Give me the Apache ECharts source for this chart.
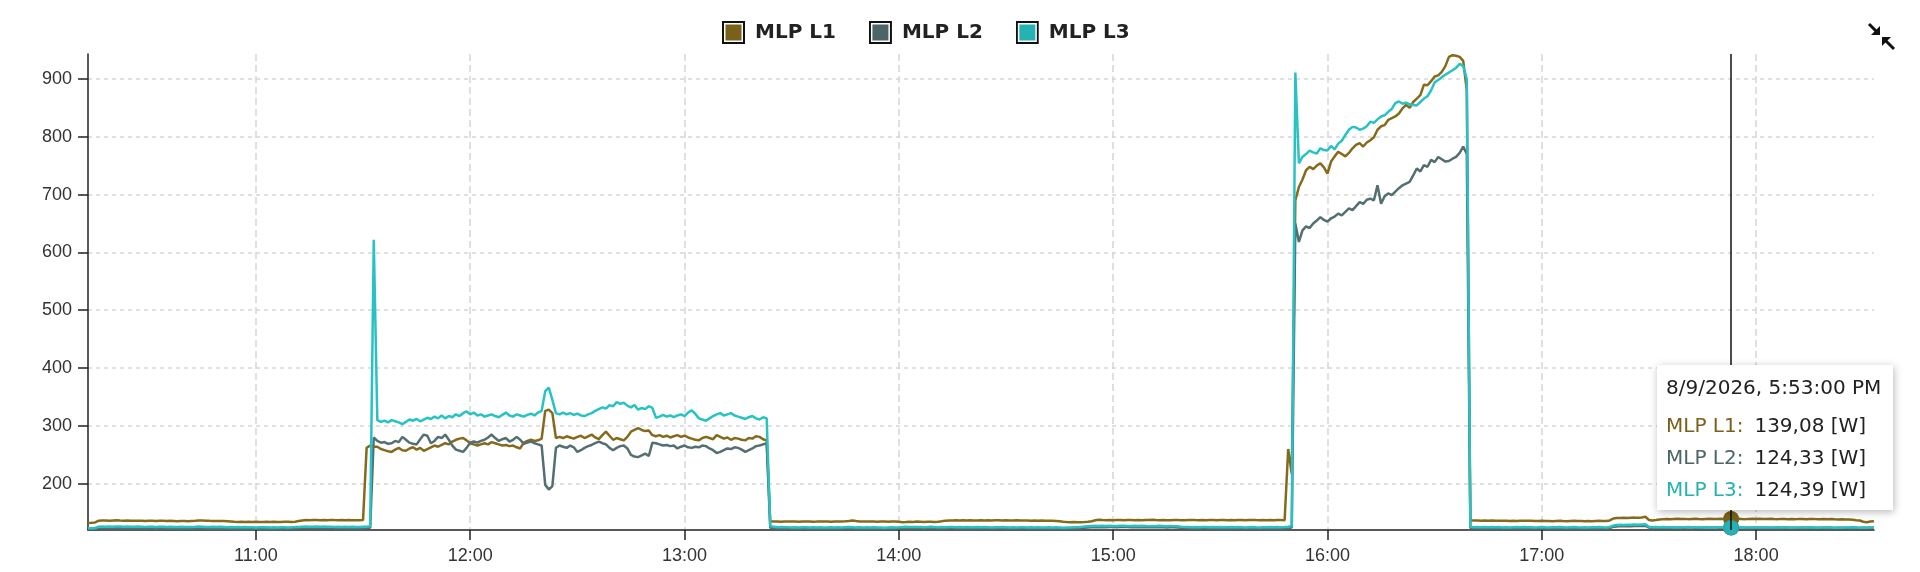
<!DOCTYPE html>
<html>
<head>
<meta charset="utf-8">
<title>MLP L1 - L3</title>
<script src="https://cdn.jsdelivr.net/npm/echarts@6/dist/echarts.min.js"></script>
<style>
  html, body { margin: 0; padding: 0; background: #fff; }
  #chart { width: 1920px; height: 572px; }
</style>
</head>
<body>
<div id="chart"></div>
<script>
// === Data === //
// one reading per minute, 8/9/2026 10:13 .. 18:33
const startTime = new Date(2026, 7, 9, 10, 13, 0).getTime()
const stepMs = 60 * 1000

const seriesNames = ['MLP L1', 'MLP L2', 'MLP L3']
const seriesColors = ['#7a611a', '#4d6567', '#26b1b3']
const unit = '[W]'

const l1Values = [
  132.2, 132.5, 133.0, 136.0, 136.4, 136.6, 136.2, 136.5, 136.8, 136.3,
  136.0, 136.4, 136.1, 135.8, 136.2, 136.0, 135.7, 136.1, 135.9, 135.6,
  136.0, 135.8, 135.5, 135.9, 135.6, 135.3, 135.7, 135.5, 135.2, 135.6,
  135.9, 136.3, 136.6, 136.2, 135.8, 135.5, 135.7, 135.4, 135.6, 135.2,
  134.8, 134.2, 134.0, 134.3, 133.9, 134.1, 133.8, 134.2, 134.0, 133.7,
  134.1, 133.9, 134.2, 134.0, 133.8, 134.1, 134.3, 134.0, 134.4, 135.5,
  136.6, 137.2, 137.0, 137.4, 137.1, 136.8, 137.3, 137.0, 137.5, 137.2,
  137.0, 137.3, 136.9, 137.2, 137.0, 136.7, 136.9, 137.1, 262, 266,
  264, 264, 260, 258, 256, 255, 259, 262, 258, 257,
  261, 263, 259, 262, 257, 260, 263, 266, 264, 267,
  270, 268, 273, 276, 278, 279, 275, 270, 268, 266,
  268, 270, 268, 272, 270, 268, 266, 267, 265, 266,
  263, 261, 271, 274, 276, 274, 275, 278, 326, 328,
  322, 279, 281, 279, 282, 280, 278, 281, 283, 279,
  282, 285, 280, 277, 284, 290, 283, 276, 279, 277,
  275, 281, 290, 293, 296, 293, 291, 292, 284, 282,
  284, 281, 283, 280, 282, 284, 281, 283, 280, 278,
  276, 275, 279, 281, 279, 277, 284, 281, 278, 280,
  276, 279, 278, 276, 275, 279, 278, 282, 281, 277,
  275, 135.0, 134.6, 134.8, 134.4, 134.7, 134.5, 134.9, 134.6, 134.3,
  134.7, 134.5, 134.8, 134.4, 134.6, 134.9, 134.5, 134.7, 134.4, 134.8,
  134.6, 134.9, 135.2, 135.6, 136.3, 135.4, 134.8, 134.6, 134.9, 134.5,
  134.7, 134.4, 134.8, 134.6, 134.3, 134.7, 134.5, 134.2, 133.6, 133.9,
  134.3, 134.0, 134.5, 134.2, 133.8, 134.1, 134.4, 134.0, 134.3, 135.0,
  136.2, 136.5, 136.3, 136.7, 136.4, 136.8, 136.5, 136.9, 136.6, 136.3,
  136.7, 136.5, 136.8, 136.4, 136.7, 136.9, 136.5, 136.8, 136.6, 136.4,
  136.7, 136.5, 136.3, 136.6, 136.2, 136.5, 136.1, 136.4, 136.0, 136.2,
  135.9, 135.6, 135.2, 134.4, 133.8, 133.5, 133.7, 133.4, 133.6, 133.9,
  134.3, 135.2, 136.8, 137.6, 137.2, 136.9, 137.3, 137.0, 137.4, 137.1,
  136.8, 137.2, 137.5, 137.0, 137.3, 136.9, 137.4, 137.1, 137.6, 137.2,
  136.9, 137.3, 137.0, 136.7, 137.1, 137.4, 137.0, 136.8, 137.2, 137.5,
  137.1, 136.9, 137.3, 137.0, 137.4, 137.2, 136.9, 137.3, 137.1, 136.8,
  137.2, 137.0, 137.4, 137.1, 136.8, 137.2, 137.5, 137.1, 136.9, 137.3,
  137.0, 137.2, 136.9, 137.3, 137.1, 137.0, 260, 217, 690, 713,
  726, 742, 748, 744, 750, 754, 747, 736, 757, 766,
  774, 770, 766, 772, 780, 786, 789, 783, 790, 794,
  799, 812, 818, 820, 829, 832, 835, 840, 849, 855,
  850, 860, 866, 872, 890, 889, 896, 904, 906, 912,
  922, 938, 941, 940, 938, 931, 880, 136.8, 136.4, 136.6,
  136.2, 136.5, 136.0, 136.3, 135.9, 136.2, 135.8, 136.1, 135.7, 136.0,
  135.6, 135.9, 136.2, 135.8, 136.1, 135.7, 135.5, 135.8, 135.4, 135.7,
  135.3, 135.6, 135.9, 135.5, 135.2, 135.6, 135.8, 135.4, 135.7, 135.3,
  135.6, 135.2, 135.5, 135.8, 135.4, 135.7, 136.5, 139.8, 140.6, 140.9,
  141.2, 140.8, 141.1, 141.4, 141.0, 141.6, 142.8, 137.4, 136.6, 137.2,
  138.3, 138.8, 139.1, 138.7, 139.0, 139.3, 138.9, 139.2, 138.8, 139.1,
  139.4, 139.0, 138.7, 139.2, 139.5, 139.1, 138.9, 139.3, 139.0, 138.8,
  139.08, 139.2, 139.5, 139.1, 138.8, 139.2, 139.4, 139.0, 139.3, 138.9,
  139.2, 139.5, 139.1, 138.8, 139.2, 139.0, 138.7, 139.1, 138.8, 139.2,
  139.0, 138.6, 138.9, 139.2, 138.8, 138.5, 138.9, 138.6, 138.9, 138.5,
  138.2, 138.6, 138.3, 138.0, 137.6, 136.9, 136.4, 134.2, 133.5, 134.8,
  135.2
]

const l2Values = [
  121.8, 122.0, 122.3, 123.2, 123.5, 123.1, 123.4, 123.0, 123.3, 122.9,
  123.2, 122.8, 123.1, 122.7, 123.0, 122.6, 122.9, 122.5, 122.8, 122.4,
  122.7, 122.4, 122.8, 122.5, 122.2, 122.6, 122.3, 122.7, 122.4, 122.1,
  122.5, 122.8, 122.4, 122.7, 122.3, 122.6, 122.2, 122.5, 122.1, 122.4,
  122.0, 122.3, 121.9, 122.2, 121.8, 122.1, 121.7, 122.0, 121.6, 121.9,
  121.5, 121.8, 121.4, 121.7, 121.9, 122.2, 122.5, 122.3, 122.6, 123.0,
  123.4, 123.7, 123.3, 123.6, 123.2, 123.5, 123.1, 123.4, 123.0, 123.3,
  122.9, 123.2, 122.8, 123.1, 122.7, 123.0, 122.6, 122.9, 123.3, 124.0,
  280, 274, 271, 272, 269, 270, 274, 272, 281, 276,
  271, 269, 268, 277, 285, 283, 270, 274, 281, 279,
  285, 276, 266, 259, 257, 255, 262, 271, 273, 271,
  274, 276, 280, 285, 279, 274, 277, 279, 273, 276,
  281, 276, 269, 271, 273, 270, 268, 266, 198, 190,
  196, 262, 266, 264, 262, 266, 263, 255, 258, 262,
  265, 267, 270, 273, 270, 268, 262, 258, 262, 265,
  266, 261, 250, 247, 246, 249, 252, 248, 271, 270,
  268, 266, 267, 265, 266, 261, 264, 266, 263, 262,
  264, 263, 266, 265, 261, 258, 253, 255, 258, 261,
  260, 263, 262, 259, 255, 258, 261, 265, 266, 268,
  270, 123.8, 123.2, 122.6, 122.9, 122.4, 122.7, 122.3, 122.6, 122.2,
  122.5, 122.1, 122.4, 122.0, 122.3, 122.6, 122.2, 122.5, 122.1, 122.4,
  122.0, 122.3, 122.6, 123.0, 122.7, 122.3, 122.6, 122.2, 122.5, 122.1,
  122.4, 122.0, 122.3, 121.9, 122.2, 122.5, 122.1, 122.4, 122.9, 123.3,
  123.0, 123.3, 122.9, 123.2, 122.8, 123.1, 123.4, 123.0, 122.7, 123.1,
  122.8, 123.2, 122.9, 122.6, 123.0, 122.7, 123.1, 122.8, 122.5, 122.9,
  122.6, 123.0, 122.7, 122.4, 122.8, 122.5, 122.9, 122.6, 122.3, 122.7,
  122.4, 122.8, 122.5, 122.2, 122.6, 122.3, 122.7, 122.4, 122.1, 122.5,
  122.2, 122.6, 122.3, 122.0, 122.4, 122.1, 122.5, 122.8, 123.3, 123.8,
  124.3, 124.7, 125.1, 124.8, 125.2, 124.9, 125.3, 125.0, 124.7, 125.1,
  125.4, 125.0, 124.7, 125.1, 124.8, 125.2, 124.9, 124.6, 125.0, 124.7,
  125.1, 124.8, 124.5, 124.9, 124.6, 124.2, 123.7, 123.3, 123.0, 122.7,
  123.1, 122.8, 123.2, 122.9, 122.6, 123.0, 122.7, 123.1, 122.8, 122.5,
  122.9, 122.6, 123.0, 122.7, 122.4, 122.8, 123.1, 122.7, 122.4, 122.8,
  122.5, 122.9, 122.6, 123.0, 122.7, 123.0, 123.6, 124.2, 650, 618,
  638, 645, 642, 650, 655, 661, 656, 653, 659, 662,
  667, 664, 670, 676, 673, 680, 687, 684, 691, 693,
  690, 716, 684, 697, 702, 699, 705, 711, 716, 719,
  722, 733, 745, 740, 751, 748, 760, 756, 765, 761,
  757, 758, 762, 765, 772, 783, 770, 123.4, 122.9, 123.3,
  122.8, 123.2, 122.7, 123.1, 122.6, 123.0, 122.5, 122.9, 122.4, 122.8,
  123.1, 122.7, 123.0, 122.6, 122.9, 122.5, 122.8, 123.2, 122.8, 122.5,
  122.9, 122.6, 123.0, 122.7, 122.4, 122.8, 123.1, 122.7, 122.4, 122.8,
  122.5, 122.9, 122.6, 123.0, 122.7, 122.4, 123.2, 125.4, 126.2, 126.7,
  126.4, 126.9, 126.6, 127.0, 126.7, 127.1, 127.4, 124.1, 123.5, 123.8,
  123.9, 124.2, 123.8, 124.1, 124.4, 124.0, 124.3, 123.9, 124.2, 124.5,
  124.1, 124.4, 124.0, 124.3, 124.6, 124.2, 124.5, 124.1, 124.4, 124.0,
  124.33, 124.6, 124.2, 124.5, 124.1, 123.8, 124.2, 123.9, 124.3, 124.0,
  124.4, 124.1, 123.8, 124.2, 123.9, 124.3, 124.0, 123.7, 124.1, 123.8,
  124.2, 123.9, 124.3, 124.0, 123.7, 124.1, 123.8, 124.2, 123.9, 123.6,
  124.0, 123.7, 124.1, 123.8, 124.2, 123.9, 123.6, 124.0, 123.7, 124.1,
  123.8
]

const l3Values = [
  123.0, 123.2, 123.5, 125.8, 126.0, 125.7, 126.1, 125.8, 126.2, 125.9,
  125.6, 126.0, 125.8, 125.5, 125.9, 125.7, 125.4, 125.8, 125.6, 125.3,
  125.7, 125.5, 125.2, 125.6, 125.4, 125.1, 125.5, 125.3, 125.0, 125.4,
  125.6, 126.0, 125.7, 125.4, 125.1, 125.5, 125.2, 125.6, 125.3, 124.9,
  125.2, 124.8, 125.1, 124.7, 125.0, 124.6, 124.9, 124.5, 124.8, 124.6,
  124.9, 124.5, 124.8, 124.4, 124.7, 124.9, 124.5, 124.8, 125.0, 125.3,
  125.6, 125.9, 125.5, 125.8, 126.0, 125.6, 125.9, 125.5, 125.8, 125.4,
  125.7, 125.3, 125.6, 125.2, 125.5, 125.1, 125.4, 125.6, 125.8, 126.5,
  622, 310, 307, 309, 306, 310, 308, 306, 303, 307,
  311, 309, 312, 308, 311, 314, 312, 316, 313, 318,
  313, 317, 315, 320, 317, 322, 325, 320, 323, 318,
  320, 316, 318, 320, 317, 315, 319, 323, 318, 316,
  320, 318, 316, 319, 321, 318, 323, 326, 360, 366,
  345, 322, 320, 323, 320, 322, 319, 321, 318, 317,
  320, 322, 326, 329, 332, 330, 336, 334, 341, 338,
  340, 335, 332, 336, 328, 331, 329, 334, 331, 314,
  316, 319, 316, 318, 315, 318, 320, 317, 323, 327,
  321, 313, 311, 309, 313, 317, 320, 322, 318, 320,
  322, 318, 316, 314, 312, 315, 317, 313, 311, 315,
  313, 126.5, 125.8, 124.9, 125.3, 124.6, 124.9, 124.4, 124.8, 124.5,
  124.9, 124.6, 124.3, 124.7, 124.4, 124.8, 124.5, 124.2, 124.6, 124.3,
  124.7, 124.4, 124.8, 125.2, 124.9, 124.5, 124.8, 124.4, 124.7, 124.3,
  124.6, 124.2, 124.5, 124.1, 124.4, 124.7, 124.3, 124.6, 125.2, 125.5,
  125.1, 125.4, 125.0, 125.3, 124.9, 125.2, 125.5, 125.1, 124.8, 125.2,
  124.9, 125.3, 125.0, 124.7, 125.1, 124.8, 125.2, 124.9, 124.6, 125.0,
  124.7, 125.1, 124.8, 124.5, 124.9, 124.6, 125.0, 124.7, 124.4, 124.8,
  124.5, 124.9, 124.6, 124.3, 124.7, 124.4, 124.8, 124.5, 124.2, 124.6,
  124.3, 124.7, 124.4, 124.1, 124.5, 124.2, 124.6, 124.9, 125.4, 125.9,
  126.4, 126.8, 127.2, 126.9, 127.3, 127.0, 127.4, 127.1, 126.8, 127.2,
  127.5, 127.1, 126.8, 127.2, 126.9, 127.3, 127.0, 126.7, 127.1, 126.8,
  127.2, 126.9, 126.6, 127.0, 126.7, 126.3, 125.8, 125.4, 125.1, 124.8,
  125.2, 124.9, 125.3, 125.0, 124.7, 125.1, 124.8, 125.2, 124.9, 124.6,
  125.0, 124.7, 125.1, 124.8, 124.5, 124.9, 125.2, 124.8, 124.5, 124.9,
  124.6, 125.0, 124.7, 125.1, 124.8, 125.0, 125.6, 127.0, 911, 754,
  765, 770, 776, 773, 771, 780, 777, 776, 784, 778,
  788, 793, 803, 812, 817, 816, 812, 814, 818, 826,
  824, 830, 835, 837, 843, 848, 858, 861, 857, 859,
  856, 855, 854, 860, 866, 870, 880, 894, 898, 903,
  907, 911, 915, 919, 926, 922, 900, 125.4, 124.9, 125.3,
  124.8, 125.2, 124.7, 125.1, 124.6, 125.0, 124.5, 124.9, 124.4, 124.8,
  125.1, 124.7, 125.0, 124.6, 124.9, 124.5, 124.8, 125.2, 124.8, 124.5,
  124.9, 124.6, 125.0, 124.7, 124.4, 124.8, 125.1, 124.7, 124.4, 124.8,
  124.5, 124.9, 124.6, 125.0, 124.7, 124.4, 125.2, 127.6, 128.5, 129.0,
  128.7, 129.2, 128.9, 129.3, 129.0, 129.4, 129.8, 125.6, 124.8, 125.1,
  124.7, 125.0, 124.6, 124.9, 124.5, 124.8, 124.4, 124.7, 125.0, 124.6,
  124.9, 124.5, 124.8, 124.4, 124.7, 124.3, 124.6, 124.9, 124.5, 124.8,
  124.39, 124.7, 124.4, 124.8, 124.5, 124.2, 124.6, 124.3, 124.7, 124.4,
  124.8, 124.5, 124.2, 124.6, 124.3, 124.7, 124.4, 124.1, 124.5, 124.2,
  124.6, 124.3, 124.7, 124.4, 124.1, 124.5, 124.2, 124.6, 124.3, 124.0,
  124.4, 124.1, 124.5, 124.2, 124.6, 124.3, 124.0, 124.4, 124.1, 124.5,
  124.2
]

const yMin = 120
const yMax = 943
const hoverIndex = 460 // 17:53

// === Helpers === //
const toPoints = values => values.map((v, i) => [startTime + i * stepMs, v])

const legendIcon = color =>
  'image://data:image/svg+xml;charset=utf-8,' +
  encodeURIComponent(
    `<svg xmlns="http://www.w3.org/2000/svg" width="23" height="23"><rect x="1" y="1" width="21" height="21" fill="#fff" stroke="#111" stroke-width="2"/><rect x="3.5" y="3.5" width="16" height="16" fill="${color}"/></svg>`
  )

const pad = n => (n < 10 ? '0' + n : '' + n)
const formatStamp = ts => {
  const d = new Date(ts)
  const h = d.getHours()
  const h12 = h % 12 === 0 ? 12 : h % 12
  return `${d.getMonth() + 1}/${d.getDate()}/${d.getFullYear()}, ${h12}:${pad(d.getMinutes())}:${pad(d.getSeconds())} ${h < 12 ? 'AM' : 'PM'}`
}

const allValues = [l1Values, l2Values, l3Values]
const endTime = startTime + (l1Values.length - 1) * stepMs

const chart = echarts.init(document.getElementById('chart'))

chart.setOption({
  animation: false,
  color: seriesColors,
  grid: { left: 88, right: 46, top: 54, bottom: 42 },
  legend: {
    left: 717,
    top: 16,
    itemWidth: 23,
    itemHeight: 23,
    itemGap: 33,
    textStyle: { fontFamily: 'DejaVu Sans', fontWeight: 'bold', fontSize: 20, color: '#222', padding: [0, 0, 0, 5] },
    data: seriesNames.map((name, i) => ({ name, icon: legendIcon(seriesColors[i]) }))
  },
  tooltip: {
    trigger: 'axis',
    alwaysShowContent: true,
    position: [1657, 365],
    backgroundColor: '#fff',
    borderWidth: 0,
    padding: [10, 12, 5, 9],
    extraCssText: 'box-shadow: 1px 2px 8px rgba(0,0,0,0.28); border-radius: 0;',
    textStyle: { fontFamily: 'DejaVu Sans', fontSize: 20, color: '#222' },
    axisPointer: { type: 'line', lineStyle: { color: '#111', width: 1.5, type: 'solid' } },
    formatter: params => {
      let html = `<div style="line-height:24px;margin-bottom:10px">${formatStamp(params[0].value[0])}</div>`
      params.forEach(p => {
        const val = p.value[1].toFixed(2).replace('.', ',')
        html += `<div style="line-height:32px"><span style="color:${p.color};margin-right:11px">${p.seriesName}:</span>${val} ${unit}</div>`
      })
      return html
    }
  },
  xAxis: {
    type: 'time',
    min: startTime,
    max: endTime,
    minInterval: 3600 * 1000,
    maxInterval: 3600 * 1000,
    axisLine: { onZero: false, lineStyle: { color: '#222', width: 1.5 } },
    axisTick: { show: true, length: 10, lineStyle: { color: '#222', width: 1.5 } },
    axisLabel: {
      formatter: '{HH}:{mm}',
      showMinLabel: false,
      showMaxLabel: false,
      margin: 17,
      fontSize: 18,
      fontFamily: 'Liberation Sans',
      color: '#333'
    },
    splitLine: {
      show: true,
      showMinLine: false,
      showMaxLine: false,
      lineStyle: { color: '#d6d6d6', type: [7, 4], width: 1.5 }
    }
  },
  yAxis: {
    type: 'value',
    min: yMin,
    max: yMax,
    minInterval: 100,
    maxInterval: 100,
    axisLine: { show: true, lineStyle: { color: '#222', width: 1.5 } },
    axisTick: { show: true, length: 10, lineStyle: { color: '#222', width: 1.5 } },
    axisLabel: {
      showMinLabel: false,
      showMaxLabel: false,
      margin: 16,
      fontSize: 18,
      fontFamily: 'Liberation Sans',
      color: '#333'
    },
    splitLine: {
      show: true,
      showMinLine: false,
      showMaxLine: false,
      lineStyle: { color: '#d6d6d6', type: [4, 4], width: 1.5 }
    }
  },
  series: seriesNames.map((name, i) => ({
    name,
    type: 'line',
    data: toPoints(allValues[i]),
    showSymbol: false,
    symbol: 'circle',
    symbolSize: 16,
    lineStyle: { width: 2.5, color: seriesColors[i] },
    itemStyle: { color: seriesColors[i], borderWidth: 0 },
    emphasis: { scale: false, lineStyle: { width: 2.5 } },
    // the hovered reading, drawn as a round marker
    markPoint: {
      silent: true,
      symbol: 'circle',
      symbolSize: 15,
      label: { show: false },
      itemStyle: { color: seriesColors[i], borderWidth: 0 },
      data: [{ coord: [startTime + hoverIndex * stepMs, allValues[i][hoverIndex]] }]
    },
    z: 2 + i
  })),
  graphic: [
    { type: 'line', shape: { x1: 1869, y1: 24, x2: 1876, y2: 31 }, style: { stroke: '#111', lineWidth: 3 } },
    { type: 'polygon', shape: { points: [[1880, 35], [1880, 26], [1871, 35]] }, style: { fill: '#111' } },
    { type: 'line', shape: { x1: 1886, y1: 41, x2: 1894, y2: 49 }, style: { stroke: '#111', lineWidth: 3 } },
    { type: 'polygon', shape: { points: [[1882, 37], [1891, 37], [1882, 46]] }, style: { fill: '#111' } }
  ]
})

chart.dispatchAction({ type: 'showTip', seriesIndex: 0, dataIndex: hoverIndex })
</script>
</body>
</html>
